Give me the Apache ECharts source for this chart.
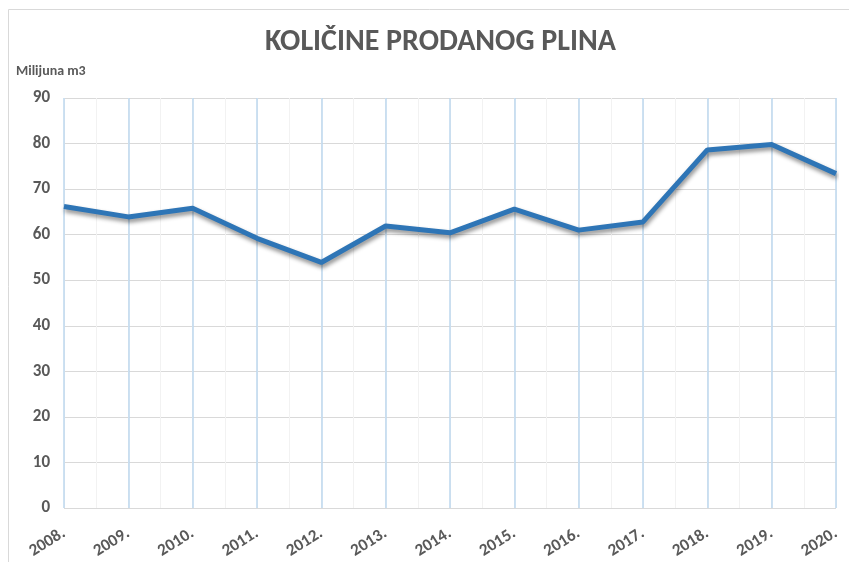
<!DOCTYPE html>
<html>
<head>
<meta charset="utf-8">
<script src="https://cdn.jsdelivr.net/npm/echarts@6/dist/echarts.min.js"></script>
<style>
  html, body { margin: 0; padding: 0; background: #fff; }
  #chart { width: 849px; height: 562px; }
</style>
</head>
<body>
<div id="chart"></div>
<script>
const years = ['2008.', '2009.', '2010.', '2011.', '2012.', '2013.', '2014.', '2015.', '2016.', '2017.', '2018.', '2019.', '2020.']
const sold = [66.2, 63.9, 65.8, 59.2, 53.9, 61.9, 60.4, 65.6, 61.0, 62.8, 78.6, 79.8, 73.4]
const yTicks = { min: 0, max: 90, step: 10 }

const font = 'Calibri, Carlito, "Open Sans", "Noto Sans", sans-serif'
const chart = echarts.init(document.getElementById('chart'))

chart.setOption({
    animation: false,
    title: {
        text: 'KOLIČINE PRODANOG PLINA',
        left: 260,
        top: 22,
        textStyle: { fontFamily: font, fontSize: 30, fontWeight: 'bold', color: '#595959' }
    },
    graphic: [{
        type: 'rect',
        shape: { x: 8.5, y: 9.5, width: 900, height: 600 },
        style: { fill: 'none', stroke: '#D9D9D9', lineWidth: 1 },
        silent: true
    }],
    grid: { left: 64, right: 13, top: 98, bottom: 54 },
    xAxis: [
        {
            type: 'category',
            data: years,
            boundaryGap: false,
            axisLine: { show: false },
            axisTick: { show: false },
            axisLabel: {
                rotate: 32,
                margin: 24,
                fontFamily: font,
                fontSize: 17,
                fontWeight: 'bold',
                color: '#595959'
            },
            splitLine: { show: true, lineStyle: { color: '#BDD7EE', width: 1.5 } },
            z: 3
        },
        {
            type: 'value',
            min: 0,
            max: years.length - 1,
            interval: 0.5,
            position: 'bottom',
            axisLine: { show: false },
            axisTick: { show: false },
            axisLabel: { show: false },
            splitLine: { show: true, lineStyle: { color: '#F2F2F2', width: 1 } },
            z: 1
        }
    ],
    yAxis: {
        type: 'value',
        min: yTicks.min,
        max: yTicks.max,
        interval: yTicks.step,
        name: 'Milijuna m3',
        nameLocation: 'end',
        nameGap: 20,
        nameTextStyle: {
            fontFamily: font, fontSize: 14, fontWeight: 'bold', color: '#595959',
            align: 'left', padding: [0, 0, 0, -48]
        },
        axisLine: { show: false },
        axisTick: { show: false },
        axisLabel: {
            margin: 14,
            fontFamily: font,
            fontSize: 17,
            fontWeight: 'bold',
            color: '#595959'
        },
        splitLine: { lineStyle: { color: '#D9D9D9', width: 1 } }
    },
    series: [{
        name: 'Milijuna m3',
        type: 'line',
        data: sold,
        symbol: 'none',
        z: 5,
        lineStyle: {
            color: '#2E75B6',
            width: 5,
            shadowColor: 'rgba(0,0,0,0.45)',
            shadowBlur: 4,
            shadowOffsetX: 1,
            shadowOffsetY: 3
        }
    }]
})
</script>
</body>
</html>
